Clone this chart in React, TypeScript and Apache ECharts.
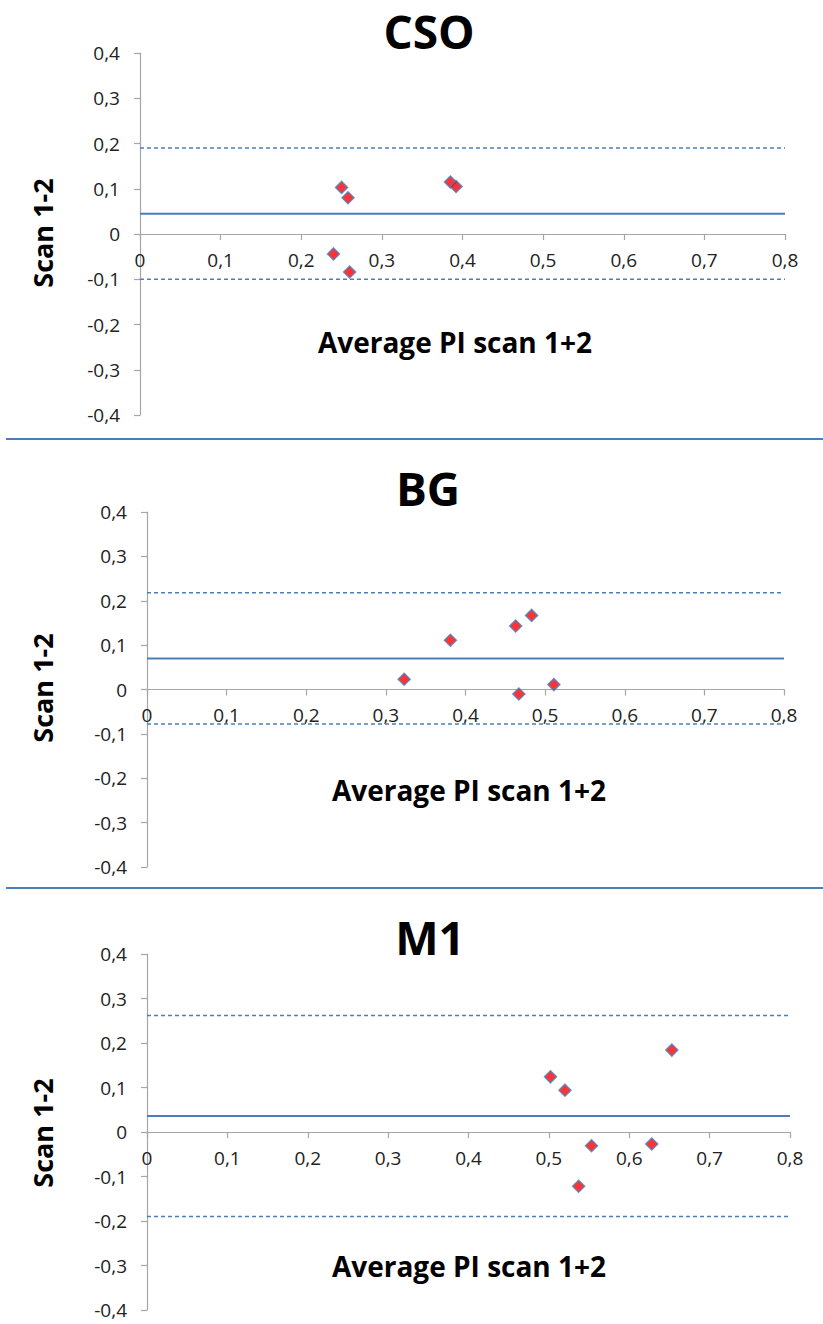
import React, { useEffect, useRef } from "react";
import * as echarts from "echarts";

// Axis ranges and ticks
const xRange = [0, 0.8];
const yRange = [-0.4, 0.4];
const tickStep = 0.1;

// Panel titles
const titles = ["CSO", "BG", "M1"];
const yAxisTitle = "Scan 1-2";
const xAxisTitle = "Average PI scan 1+2";

// CSO
const csoX = [0.25, 0.258, 0.24, 0.26, 0.385, 0.392];
const csoY = [0.103, 0.08, -0.044, -0.084, 0.115, 0.105];
const csoLines = [0.045, 0.19, -0.1]; // mean, upper limit, lower limit

// BG
const bgX = [0.323, 0.381, 0.463, 0.483, 0.467, 0.511];
const bgY = [0.023, 0.111, 0.143, 0.167, -0.01, 0.011];
const bgLines = [0.07, 0.218, -0.078];

// M1
const m1X = [0.502, 0.52, 0.653, 0.553, 0.628, 0.537];
const m1Y = [0.124, 0.094, 0.184, -0.031, -0.027, -0.122];
const m1Lines = [0.036, 0.262, -0.19];

const panels = [
  { x: csoX, y: csoY, lines: csoLines },
  { x: bgX, y: bgY, lines: bgLines },
  { x: m1X, y: m1Y, lines: m1Lines },
];

// layout
const grids = [
  { left: 140, top: 53, width: 645, height: 362 },
  { left: 147, top: 512, width: 637, height: 355 },
  { left: 147, top: 954, width: 643, height: 356 },
];
const titlePos = [
  { x: 429, y: 31 },
  { x: 428, y: 488 },
  { x: 430, y: 937 },
];
const yTitlePos = [
  { x: 42, y: 233 },
  { x: 42, y: 688 },
  { x: 42, y: 1133 },
];
const xTitlePos = [
  { x: 455, y: 342 },
  { x: 469, y: 790 },
  { x: 469, y: 1266 },
];
const separators = [439, 888];

const BLUE = "#4A7EBB";
const AXIS = "#A6A6A6";
const FONT = "'Open Sans', 'Noto Sans', sans-serif";

const fmt = (v: number) => {
  if (Math.abs(v) < 1e-9) return "0";
  return v.toFixed(1).replace(".", ",");
};

export default function App() {
  const ref = useRef<HTMLDivElement>(null);
  useEffect(() => {
    document.body.style.margin = "0";
    const chart = echarts.init(ref.current!, null, { renderer: "svg" });

    const xAxis: any[] = [];
    const yAxis: any[] = [];
    const series: any[] = [];
    const graphic: any[] = [];

    panels.forEach((p, i) => {
      // place the horizontal axis at y = 0 of this panel's value range
      const zeroFrac = (0 - yRange[0]) / (yRange[1] - yRange[0]);
      xAxis.push({
        type: "value",
        gridIndex: i,
        min: xRange[0],
        max: xRange[1],
        interval: tickStep,
        position: "bottom",
        offset: -grids[i].height * zeroFrac,
        axisLine: { onZero: false, lineStyle: { color: AXIS, width: 1.2 } },
        axisTick: { show: true, inside: false, length: 6, lineStyle: { color: AXIS, width: 1.2 } },
        axisLabel: { formatter: fmt, fontSize: 19, color: "#222", fontFamily: FONT, margin: 16 },
        splitLine: { show: false },
      });
      yAxis.push({
        type: "value",
        gridIndex: i,
        min: yRange[0],
        max: yRange[1],
        interval: tickStep,
        axisLine: { show: true, onZero: false, lineStyle: { color: AXIS, width: 1.2 } },
        axisTick: { show: true, length: 6, lineStyle: { color: AXIS, width: 1.2 } },
        axisLabel: { formatter: fmt, fontSize: 19, color: "#222", fontFamily: FONT, margin: 20 },
        splitLine: { show: false },
      });
      const [mean, upper, lower] = p.lines;
      series.push({
        type: "line",
        xAxisIndex: i,
        yAxisIndex: i,
        data: [[xRange[0], mean], [xRange[1], mean]],
        symbol: "none",
        lineStyle: { color: BLUE, width: 2 },
        z: 2,
      });
      [upper, lower].forEach((v) => {
        series.push({
          type: "line",
          xAxisIndex: i,
          yAxisIndex: i,
          data: [[xRange[0], v], [xRange[1], v]],
          symbol: "none",
          lineStyle: { color: BLUE, width: 1.5, type: [4, 3] },
          z: 2,
        });
      });
      series.push({
        type: "scatter",
        xAxisIndex: i,
        yAxisIndex: i,
        data: p.x.map((xv, k) => [xv, p.y[k]]),
        symbol: "diamond",
        symbolSize: 12,
        itemStyle: { color: "#FF0000", borderColor: BLUE, borderWidth: 1.5 },
        z: 5,
      });

      graphic.push({
        type: "text",
        x: titlePos[i].x,
        y: titlePos[i].y,
        style: {
          text: titles[i],
          fontSize: 46,
          fontWeight: "bold",
          fontFamily: FONT,
          fill: "#000",
          align: "center",
          verticalAlign: "middle",
        },
      });
      graphic.push({
        type: "text",
        x: yTitlePos[i].x,
        y: yTitlePos[i].y,
        rotation: Math.PI / 2,
        style: {
          text: yAxisTitle,
          fontSize: 27,
          fontWeight: "bold",
          fontFamily: FONT,
          fill: "#000",
          align: "center",
          verticalAlign: "middle",
        },
      });
      graphic.push({
        type: "text",
        x: xTitlePos[i].x,
        y: xTitlePos[i].y,
        style: {
          text: xAxisTitle,
          fontSize: 28,
          fontWeight: "bold",
          fontFamily: FONT,
          fill: "#000",
          align: "center",
          verticalAlign: "middle",
        },
      });
    });

    separators.forEach((yv) => {
      graphic.push({
        type: "line",
        shape: { x1: 6, y1: yv, x2: 823, y2: yv },
        style: { stroke: BLUE, lineWidth: 2 },
      });
    });

    chart.setOption({
      animation: false,
      backgroundColor: "#fff",
      grid: grids.map((g) => ({ ...g, containLabel: false })),
      xAxis,
      yAxis,
      series,
      graphic,
    });
    return () => chart.dispose();
  }, []);
  return <div ref={ref} style={{ width: 823, height: 1324 }} />;
}
